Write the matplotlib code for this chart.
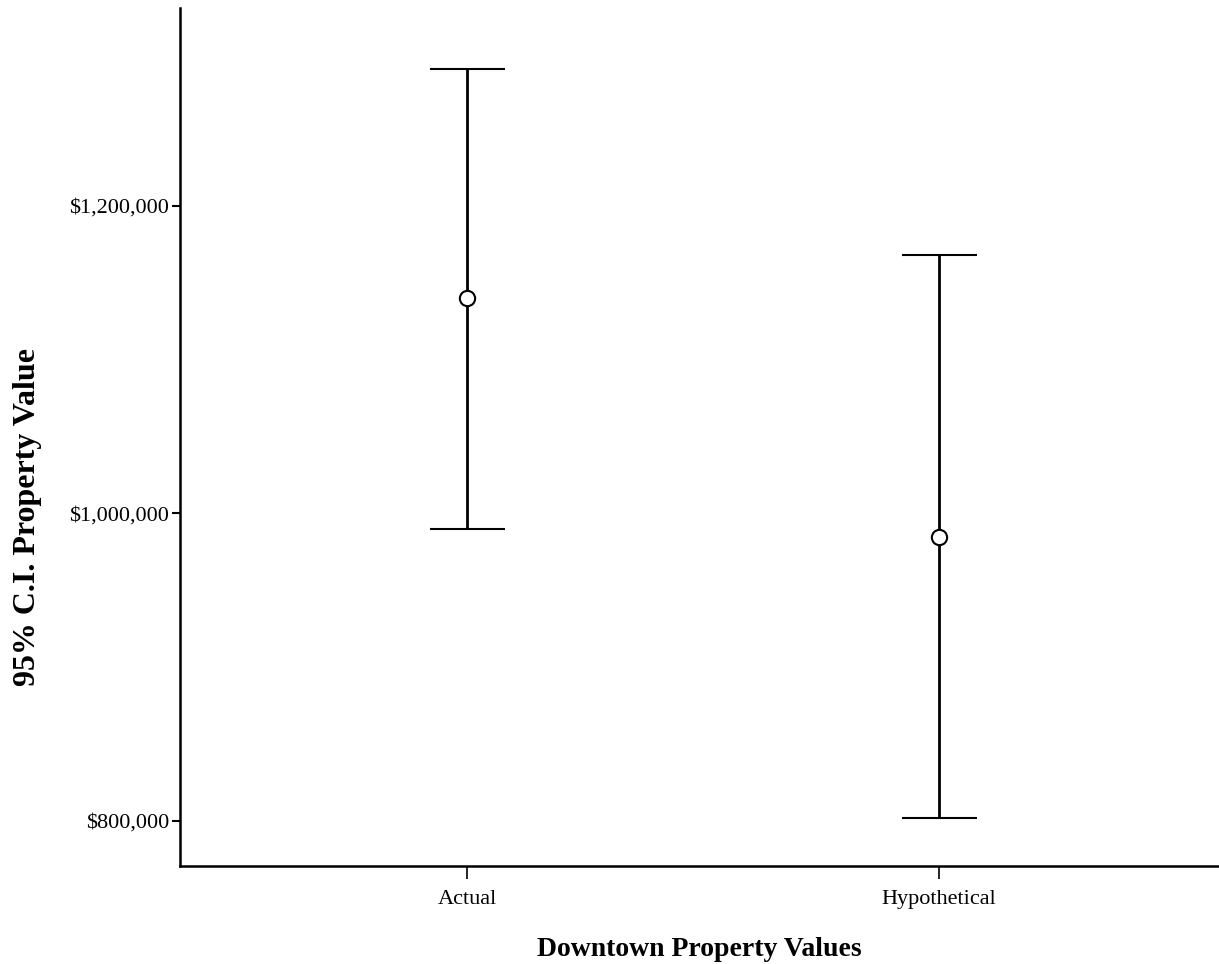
import matplotlib.pyplot as plt
from matplotlib.ticker import FuncFormatter

categories = ["Actual", "Hypothetical"]
means = [1140000, 985000]
upper = [1289000, 1168000]
lower = [990000, 802000]

plt.rcParams["font.family"] = ["Liberation Serif", "DejaVu Serif"]

fig = plt.figure(figsize=(12.19, 9.64), dpi=100)
ax = fig.add_axes([180 / 1219, (964 - 866) / 964, 1039 / 1219, (866 - 8) / 964])

x = list(range(len(categories)))
yerr = [[m - lo for m, lo in zip(means, lower)],
        [up - m for m, up in zip(means, upper)]]
ax.errorbar(x, means, yerr=yerr, fmt="o", color="black", mfc="white",
            mec="black", ms=11, mew=1.5, elinewidth=2, capsize=27, capthick=2)

ax.set_xlim(-0.608, 1.593)
ax.set_ylim(770700, 1328800)
ax.set_xticks(x)
ax.set_xticklabels(categories, fontsize=16)
ax.set_yticks([800000, 1000000, 1200000])
ax.yaxis.set_major_formatter(FuncFormatter(lambda v, p: "${:,.0f}".format(v)))
ax.tick_params(axis="y", labelsize=16, length=6, width=1.5, pad=2)
ax.tick_params(axis="x", length=9, width=1.2, pad=8)

for side in ["top", "right"]:
    ax.spines[side].set_visible(False)
ax.spines["left"].set_linewidth(1.8)
ax.spines["bottom"].set_linewidth(1.8)

ax.set_ylabel("95% C.I. Property Value", fontsize=23, fontweight="bold")
ax.set_xlabel("Downtown Property Values", fontsize=20, fontweight="bold")
ax.yaxis.set_label_coords(-0.133, 0.407)
ax.xaxis.set_label_coords(0.5, -0.083)

fig.savefig("out.png", dpi=100)
